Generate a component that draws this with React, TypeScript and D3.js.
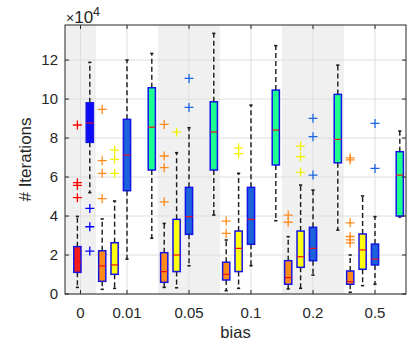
import React from "react";
import * as d3 from "d3";

// Category labels along the x axis
const biasLabels = ["0", "0.01", "0.05", "0.1", "0.2", "0.5"];
const yTicks = [0, 2, 4, 6, 8, 10, 12];

// Box statistics per bias level: [lower whisker, Q1, median, Q3, upper whisker] (×10^4 iterations)
const redBias = [0];
const redStats = [[0.34, 1.11, 1.66, 2.43, 3.98]];
const redOutliers = [[8.67, 5.71, 5.57, 4.94]];

const deepBlueBias = [0];
const deepBlueStats = [[5.2, 7.78, 8.77, 9.81, 11.88]];
const deepBlueOutliers = [[4.39, 3.45, 2.2]];

const orangeBias = [1, 2, 3, 4, 5];
const orangeStats = [
  [0.24, 0.65, 1.44, 2.22, 3.85],
  [0.34, 0.6, 1.15, 2.12, 3.62],
  [0.17, 0.72, 1.01, 1.63, 2.77],
  [0.26, 0.5, 0.84, 1.71, 2.94],
  [0.09, 0.5, 0.63, 1.18, 2.0],
];
const orangeOutliers = [
  [9.47, 6.84, 6.19, 4.89],
  [8.7, 7.08, 6.48, 4.73],
  [3.74, 3.11],
  [4.05, 3.68],
  [6.98, 6.88, 3.65, 2.95, 2.78, 2.62],
];

const yellowBias = [1, 2, 3, 4, 5];
const yellowStats = [
  [0.29, 1.01, 1.49, 2.63, 4.77],
  [0.32, 1.15, 2.0, 3.83, 7.25],
  [0.29, 1.15, 2.34, 3.23, 6.19],
  [0.29, 1.37, 1.91, 3.23, 5.59],
  [0.43, 1.27, 2.26, 3.08, 5.03],
];
const yellowOutliers = [
  [7.38, 6.91, 6.19],
  [8.3],
  [7.5, 7.2],
  [7.59, 7.04, 6.24],
  [],
];

const blueBias = [1, 2, 3, 4, 5];
const blueStats = [
  [1.79, 5.3, 7.13, 8.96, 12.0],
  [1.45, 3.06, 3.97, 5.47, 8.53],
  [1.45, 2.55, 3.83, 5.47, 9.69],
  [0.97, 1.71, 2.34, 3.42, 5.33],
  [0.5, 1.49, 1.79, 2.56, 3.97],
];
const blueOutliers = [[], [11.06, 9.57], [], [9.01, 8.07, 6.1], [8.75, 6.44]];

const greenBias = [1, 2, 3, 4, 5];
const greenStats = [
  [2.86, 6.36, 8.56, 10.58, 12.34],
  [4.05, 6.36, 8.31, 9.86, 13.37],
  [3.76, 6.62, 8.41, 10.46, 12.74],
  [3.28, 6.73, 7.93, 10.24, 11.74],
  [3.95, 4.0, 6.1, 7.3, 8.36],
];
const greenOutliers = [[], [], [], [], []];

type Series = {
  key: string;
  bias: number[];
  stats: number[][];
  outliers: number[][];
  fill: string;
  mark: string;
};

const series: Series[] = [
  { key: "red", bias: redBias, stats: redStats, outliers: redOutliers, fill: "#f21a1a", mark: "#ff0000" },
  { key: "deepBlue", bias: deepBlueBias, stats: deepBlueStats, outliers: deepBlueOutliers, fill: "#0a0aff", mark: "#0000ff" },
  { key: "orange", bias: orangeBias, stats: orangeStats, outliers: orangeOutliers, fill: "#ff8a1c", mark: "#ff8a1c" },
  { key: "yellow", bias: yellowBias, stats: yellowStats, outliers: yellowOutliers, fill: "#ffff10", mark: "#f2f200" },
  { key: "blue", bias: blueBias, stats: blueStats, outliers: blueOutliers, fill: "#1c62dc", mark: "#1c66e0" },
  { key: "green", bias: greenBias, stats: greenStats, outliers: greenOutliers, fill: "#1cff90", mark: "#1cff90" },
];

// Slot on the x axis: the unbiased group holds two boxes, every other group five slots
function slotOf(key: string, b: number): number {
  if (b === 0) return key === "red" ? 1 : 2;
  const c = 5 * b;
  const offset: Record<string, number> = { orange: -2, yellow: -1, blue: 0, green: 2 };
  return c + offset[key];
}

const W = 409;
const H = 345;
const left = 65;
const right = 406;
const top = 25;
const bottom = 294;

export default function App() {
  const x = d3.scaleLinear().domain([0, 27.5]).range([left, right]);
  const y = d3.scaleLinear().domain([0, 13.8]).range([bottom, top]);

  const bandEdges = [0, 2.5, 7.5, 12.5, 17.5, 22.5, 27.5];
  const bandCenters = bandEdges.slice(0, -1).map((e, i) => (e + bandEdges[i + 1]) / 2);
  const boxHalf = (x(0.58) - x(0)) / 2;
  const capHalf = 1.6;
  const plus = 4.5;
  const font = "'Liberation Sans', Arial, Helvetica, sans-serif";
  const axisColor = "#262626";

  return (
    <svg
      width={W}
      height={H}
      style={{ position: "fixed", left: 0, top: 0, background: "#fff" }}
      fontFamily={font}
    >
      <rect x={0} y={0} width={W} height={H} fill="#fff" />
      {/* alternating group bands */}
      {bandCenters.map((c, i) =>
        i % 2 === 0 ? (
          <rect
            key={"band" + i}
            x={x(bandEdges[i])}
            y={top}
            width={x(bandEdges[i + 1]) - x(bandEdges[i])}
            height={bottom - top}
            fill="#f0f0f0"
          />
        ) : null
      )}
      {/* grid */}
      {yTicks.map((t) => (
        <line key={"gy" + t} x1={left} x2={right} y1={y(t)} y2={y(t)} stroke="#dedede" strokeWidth={1} />
      ))}
      {bandCenters.map((c, i) => (
        <line key={"gx" + i} x1={x(c)} x2={x(c)} y1={top} y2={bottom} stroke="#dedede" strokeWidth={1} />
      ))}
      {/* boxes */}
      {series.map((s) =>
        s.bias.map((b, i) => {
          const [lo, q1, med, q3, hi] = s.stats[i];
          const cx = x(slotOf(s.key, b));
          return (
            <g key={s.key + b}>
              <line x1={cx} x2={cx} y1={y(q3)} y2={y(hi)} stroke="#1a1a1a" strokeWidth={1.4} strokeDasharray="5,3" />
              <line x1={cx} x2={cx} y1={y(q1)} y2={y(lo)} stroke="#1a1a1a" strokeWidth={1.4} strokeDasharray="5,3" />
              <line x1={cx - capHalf} x2={cx + capHalf} y1={y(hi)} y2={y(hi)} stroke="#1a1a1a" strokeWidth={1.6} />
              <line x1={cx - capHalf} x2={cx + capHalf} y1={y(lo)} y2={y(lo)} stroke="#1a1a1a" strokeWidth={1.6} />
              <rect
                x={cx - boxHalf}
                y={y(q3)}
                width={boxHalf * 2}
                height={y(q1) - y(q3)}
                fill={s.fill}
                stroke="#1414e6"
                strokeWidth={1.5}
              />
              <line x1={cx - boxHalf} x2={cx + boxHalf} y1={y(med)} y2={y(med)} stroke="#e8101a" strokeWidth={1.2} />
              {s.outliers[i].map((o, j) => (
                <path
                  key={j}
                  d={`M${cx - plus},${y(o)}H${cx + plus}M${cx},${y(o) - plus}V${y(o) + plus}`}
                  stroke={s.mark}
                  strokeWidth={1.3}
                  fill="none"
                />
              ))}
            </g>
          );
        })
      )}
      {/* axes frame */}
      <rect x={left} y={top} width={right - left} height={bottom - top} fill="none" stroke={axisColor} strokeWidth={1} />
      {yTicks.map((t) => (
        <g key={"ty" + t}>
          <line x1={left} x2={left + 4} y1={y(t)} y2={y(t)} stroke={axisColor} />
          <line x1={right} x2={right - 4} y1={y(t)} y2={y(t)} stroke={axisColor} />
          <text x={left - 7} y={y(t)} dy="0.35em" textAnchor="end" fontSize={15} fill={axisColor}>
            {t}
          </text>
        </g>
      ))}
      {bandCenters.map((c, i) => (
        <g key={"tx" + i}>
          <line x1={x(c)} x2={x(c)} y1={bottom} y2={bottom - 4} stroke={axisColor} />
          <line x1={x(c)} x2={x(c)} y1={top} y2={top + 4} stroke={axisColor} />
          <text x={x(c)} y={318} textAnchor="middle" fontSize={15} fill={axisColor}>
            {biasLabels[i]}
          </text>
        </g>
      ))}
      <text x={left + 1} y={22.5} fontSize={17} fill={axisColor}>
        <tspan fontSize={14}>×</tspan>10
        <tspan dy={-7} fontSize={12.5}>
          4
        </tspan>
      </text>
      <text x={(left + right) / 2} y={338} textAnchor="middle" fontSize={16.5} fill={axisColor}>
        bias
      </text>
      <text
        transform={`translate(31, ${(top + bottom) / 2}) rotate(-90)`}
        textAnchor="middle"
        fontSize={17}
        fill={axisColor}
      >
        # Iterations
      </text>
    </svg>
  );
}
